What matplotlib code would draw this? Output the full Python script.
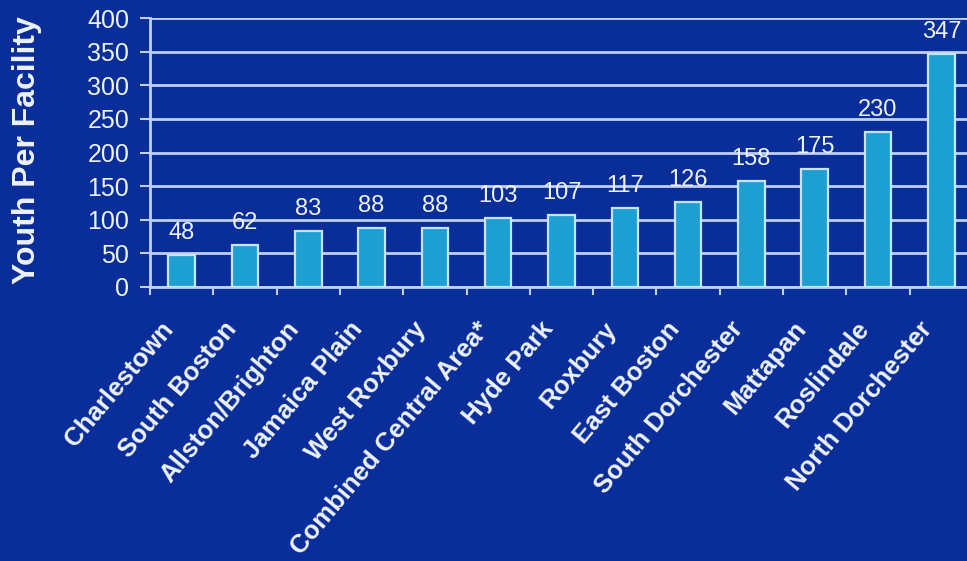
import matplotlib
matplotlib.use("Agg")
import matplotlib.pyplot as plt
import numpy as np

categories = ["Charlestown", "South Boston", "Allston/Brighton", "Jamaica Plain",
              "West Roxbury", "Combined Central Area*", "Hyde Park", "Roxbury",
              "East Boston", "South Dorchester", "Mattapan", "Roslindale",
              "North Dorchester"]
values = [48, 62, 83, 88, 88, 103, 107, 117, 126, 158, 175, 230, 347]
yticks = [0, 50, 100, 150, 200, 250, 300, 350, 400]

sans = "Liberation Sans"

bg = "#0a2e99"
bar_c = "#1e9fd2"
edge_c = "#c8e4f8"
grid_c = "#c0d0f2"
txt_c = "#eef2fb"

W, H = 967, 561
fig = plt.figure(figsize=(W / 100, H / 100), dpi=100, facecolor=bg)
left, right, top, bottom = 150, 973, 18, 287
ax = fig.add_axes([left / W, (H - bottom) / H, (right - left) / W, (bottom - top) / H])
ax.set_facecolor(bg)

x = np.arange(len(categories)) + 0.5
ax.bar(x, values, width=0.42, color=bar_c, edgecolor=edge_c, linewidth=1.6, zorder=3)

for xi, v in zip(x, values):
    ax.annotate(str(v), (xi, v), xytext=(0, 8), textcoords="offset points",
                ha="center", va="bottom", color=txt_c, fontsize=17,
                family=sans, zorder=4)

ax.set_xlim(0, len(categories))
ax.set_ylim(0, 400)
ax.set_yticks(yticks)
ax.set_yticklabels([str(t) for t in yticks], family=sans, fontsize=18, color=txt_c)
ax.yaxis.grid(True, color=grid_c, linewidth=2, zorder=1)
ax.set_axisbelow(True)

ax.set_xticks(np.arange(len(categories) + 1))
ax.set_xticklabels([])
for xi, name in zip(x, categories):
    ax.annotate(name, (xi, 0), xytext=(-13, -38), textcoords="offset pixels",
                rotation=50, rotation_mode="anchor", ha="right", va="center",
                fontsize=18.5, fontweight="bold", family=sans, color=txt_c,
                annotation_clip=False)
ax.tick_params(axis="x", length=6, width=1.5, color=grid_c, direction="out")
ax.tick_params(axis="y", length=7, width=1.5, color=grid_c, pad=8)

for s in ["top", "right"]:
    ax.spines[s].set_visible(False)
for s in ["left", "bottom"]:
    ax.spines[s].set_color(grid_c)
    ax.spines[s].set_linewidth(2)

fig.text(27 / W, 1 - 150 / H, "Youth Per Facility", rotation=90, ha="center", va="center",
         fontsize=23, fontweight="bold", family=sans, color=txt_c)

fig.savefig("out.png", dpi=100, facecolor=bg)
